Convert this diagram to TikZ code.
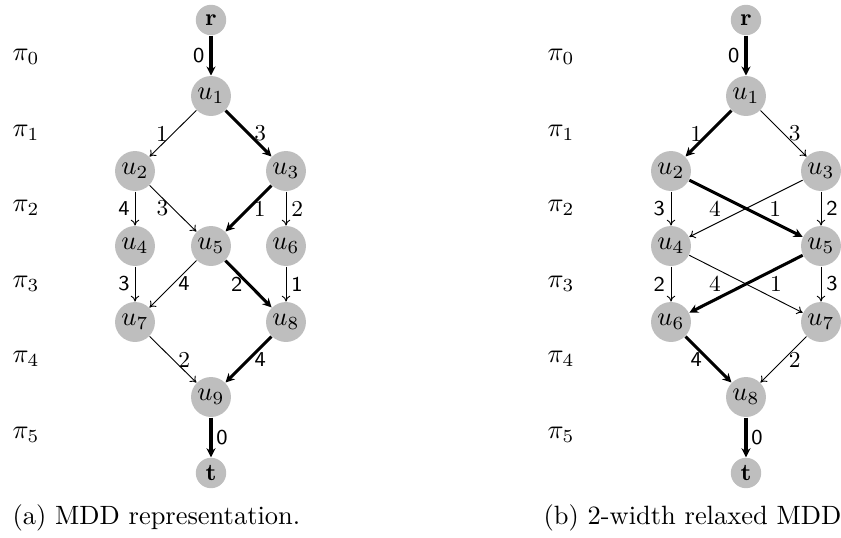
\documentclass[tikz,border=0pt]{standalone}
\usetikzlibrary{arrows.meta}
\definecolor{nodegray}{RGB}{190,190,190}
\begin{document}
\begin{tikzpicture}[x=0.378pt,y=-0.378pt,
  vtx/.style={circle,fill=nodegray,minimum size=15.1pt,inner sep=0pt,font=\fontsize{9.6}{10}\selectfont},
  term/.style={circle,fill=nodegray,minimum size=11.5pt,inner sep=0pt,font=\fontsize{9.2}{10}\selectfont},
  thin arc/.style={-{To[length=2.2pt,width=3.2pt]},line width=0.35pt},
  thick arc/.style={-{Stealth[length=3.4pt,width=3.4pt]},line width=1.15pt},
  lbl/.style={font=\sffamily\fontsize{8}{9}\selectfont,inner sep=0pt},
  rlbl/.style={font=\fontsize{8.6}{9}\selectfont,inner sep=0pt},
  layer/.style={anchor=west,inner sep=0pt,font=\fontsize{9.6}{10}\selectfont},
  caption/.style={anchor=west,inner sep=0pt,font=\fontsize{10}{12}\selectfont}]
\useasboundingbox (0,0) rectangle (841,538);

% ---------- (a) exact MDD ----------
\node[layer] (pa0) at (12,57) {$\pi_0$};
\node[layer] (pa1) at (12,133) {$\pi_1$};
\node[layer] (pa2) at (12,208) {$\pi_2$};
\node[layer] (pa3) at (12,284) {$\pi_3$};
\node[layer] (pa4) at (12,359) {$\pi_4$};
\node[layer] (pa5) at (12,435) {$\pi_5$};

\node[term] (ar) at (211,20) {$\mathbf{r}$};
\node[vtx] (a1) at (211,96) {$u_1$};
\node[vtx] (a2) at (135,171) {$u_2$};
\node[vtx] (a3) at (286,171) {$u_3$};
\node[vtx] (a4) at (135,246) {$u_4$};
\node[vtx] (a5) at (211,246) {$u_5$};
\node[vtx] (a6) at (286,246) {$u_6$};
\node[vtx] (a7) at (135,322) {$u_7$};
\node[vtx] (a8) at (286,322) {$u_8$};
\node[vtx] (a9) at (211,397) {$u_9$};
\node[term] (at) at (211,473) {$\mathbf{t}$};

\draw[thick arc] (ar) -- node[lbl,midway,xshift=-4.6pt] {0} (a1);
\draw[thin arc] (a1) -- node[rlbl,midway,xshift=-4.2pt] {1} (a2);
\draw[thick arc] (a1) -- node[rlbl,midway,xshift=4.4pt] {3} (a3);
\draw[thin arc] (a2) -- node[lbl,midway,xshift=-4.2pt] {4} (a4);
\draw[thin arc] (a2) -- node[rlbl,midway,xshift=-4pt] {3} (a5);
\draw[thick arc] (a3) -- node[rlbl,midway,xshift=4.2pt] {1} (a5);
\draw[thin arc] (a3) -- node[rlbl,midway,xshift=4.2pt] {2} (a6);
\draw[thin arc] (a4) -- node[lbl,midway,xshift=-4.2pt] {3} (a7);
\draw[thin arc] (a5) -- node[lbl,midway,xshift=4.2pt] {4} (a7);
\draw[thick arc] (a5) -- node[lbl,midway,xshift=-4.4pt] {2} (a8);
\draw[thin arc] (a6) -- node[lbl,midway,xshift=4.2pt] {1} (a8);
\draw[thin arc] (a7) -- node[rlbl,midway,xshift=4.2pt] {2} (a9);
\draw[thick arc] (a8) -- node[lbl,midway,xshift=4.4pt] {4} (a9);
\draw[thick arc] (a9) -- node[lbl,midway,xshift=4.2pt] {0} (at);

\node[caption] (capa) at (12,518) {(a) MDD representation.};

% ---------- (b) relaxed MDD of width 2 ----------
\node[layer] (pb0) at (547,57) {$\pi_0$};
\node[layer] (pb1) at (547,133) {$\pi_1$};
\node[layer] (pb2) at (547,208) {$\pi_2$};
\node[layer] (pb3) at (547,284) {$\pi_3$};
\node[layer] (pb4) at (547,359) {$\pi_4$};
\node[layer] (pb5) at (547,435) {$\pi_5$};

\node[term] (br) at (746,20) {$\mathbf{r}$};
\node[vtx] (b1) at (746,96) {$u_1$};
\node[vtx] (b2) at (671,171) {$u_2$};
\node[vtx] (b3) at (821,171) {$u_3$};
\node[vtx] (b4) at (671,246) {$u_4$};
\node[vtx] (b5) at (821,246) {$u_5$};
\node[vtx] (b6) at (671,322) {$u_6$};
\node[vtx] (b7) at (821,322) {$u_7$};
\node[vtx] (b8) at (746,397) {$u_8$};
\node[term] (bt) at (746,473) {$\mathbf{t}$};

\draw[thick arc] (br) -- node[lbl,midway,xshift=-4.6pt] {0} (b1);
\draw[thick arc] (b1) -- node[rlbl,midway,xshift=-4.6pt] {1} (b2);
\draw[thin arc] (b1) -- node[rlbl,midway,xshift=4.2pt] {3} (b3);
\draw[thin arc] (b2) -- node[lbl,midway,xshift=-4.4pt] {3} (b4);
\draw[thin arc] (b3) -- node[rlbl,midway,xshift=-11.7pt] {4} (b4);
\draw[thick arc] (b2) -- node[rlbl,midway,xshift=11pt] {1} (b5);
\draw[thin arc] (b3) -- node[lbl,midway,xshift=4.2pt] {2} (b5);
\draw[thin arc] (b4) -- node[lbl,midway,xshift=-4.4pt] {2} (b6);
\draw[thick arc] (b5) -- node[rlbl,midway,xshift=-11.7pt] {4} (b6);
\draw[thin arc] (b4) -- node[rlbl,midway,xshift=11.3pt] {1} (b7);
\draw[thin arc] (b5) -- node[lbl,midway,xshift=4.2pt] {3} (b7);
\draw[thick arc] (b6) -- node[lbl,midway,xshift=-4.6pt] {4} (b8);
\draw[thin arc] (b7) -- node[rlbl,midway,xshift=4.2pt] {2} (b8);
\draw[thick arc] (b8) -- node[lbl,midway,xshift=4.2pt] {0} (bt);

\node[caption] (capb) at (543,518) {(b) 2-width relaxed MDD};
\end{tikzpicture}
\end{document}
